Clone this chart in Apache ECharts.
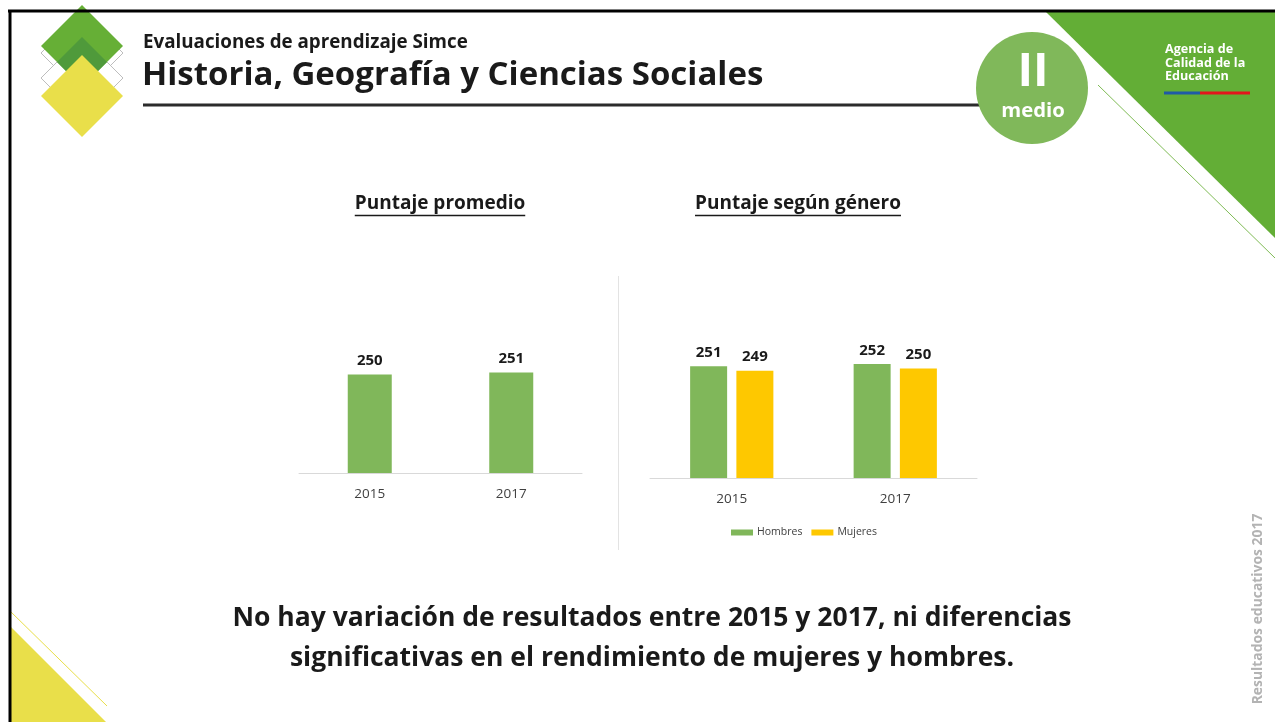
<!DOCTYPE html>
<html>
<head>
<meta charset="utf-8">
<script src="https://cdn.jsdelivr.net/npm/echarts@6/dist/echarts.min.js"></script>
<style>
  html, body { margin: 0; padding: 0; background: #ffffff; }
  #chart { width: 1275px; height: 722px; }
</style>
</head>
<body>
<div id="chart"></div>
<script>
// Simce results, Historia, Geografía y Ciencias Sociales (II medio)
const years = ['2015', '2017'];
const promedio = [250, 251];
const hombres = [251, 252];
const mujeres = [249, 250];
const seriesNames = ['Puntaje promedio', 'Hombres', 'Mujeres'];

const FONT = '"Open Sans", Lato, sans-serif';
const GREEN_BAR = '#80b75a';
const YELLOW_BAR = '#fec800';

// measure a string so the underlines fit their headings
const measureCtx = document.createElement('canvas').getContext('2d');
function textWidth(str, size, weight) {
  measureCtx.font = (weight || 'bold') + ' ' + size + 'px ' + FONT;
  return measureCtx.measureText(str).width;
}

function diamond(cx, cy, r) {
  return [[cx, cy - r], [cx + r, cy], [cx, cy + r], [cx - r, cy]];
}

function headingWithUnderline(str, cx, cy, size) {
  const w = textWidth(str, size);
  return [
    { type: 'text', x: cx, y: cy, z: 10,
      style: { text: str, fontFamily: FONT, fontSize: size, fontWeight: 'bold',
               fill: '#1a1a1a', align: 'center', verticalAlign: 'middle' } },
    { type: 'line', z: 10,
      shape: { x1: cx - w / 2, y1: cy + size * 0.6, x2: cx + w / 2, y2: cy + size * 0.6 },
      style: { stroke: '#1a1a1a', lineWidth: 1.5 } }
  ];
}

const graphics = [
  // frame
  { type: 'line', shape: { x1: 8, y1: 11, x2: 1275, y2: 11 }, style: { stroke: '#000', lineWidth: 3 }, z: 20 },
  { type: 'line', shape: { x1: 10, y1: 10, x2: 10, y2: 722 }, style: { stroke: '#000', lineWidth: 3 }, z: 20 },

  // emblem at top left
  { type: 'polygon', shape: { points: diamond(82, 53, 41) }, style: { fill: '#fff', stroke: '#bdbdbd', lineWidth: 1 } },
  { type: 'polygon', shape: { points: diamond(82, 78, 41) }, style: { fill: '#fff', stroke: '#bdbdbd', lineWidth: 1 } },
  { type: 'polygon', shape: { points: diamond(82, 46, 41) }, style: { fill: '#66af36' } },
  { type: 'polygon', shape: { points: diamond(82, 62, 25) }, style: { fill: '#4f9a3b' } },
  { type: 'polygon', shape: { points: diamond(82, 96, 41) }, style: { fill: '#e9df4a' } },

  // header
  { type: 'text', x: 143, y: 43,
    style: { text: 'Evaluaciones de aprendizaje Simce', fontFamily: FONT, fontSize: 18.8, fontWeight: 'bold',
             fill: '#1a1a1a', align: 'left', verticalAlign: 'middle' } },
  { type: 'text', x: 142, y: 76,
    style: { text: 'Historia, Geografía y Ciencias Sociales', fontFamily: FONT, fontSize: 33, fontWeight: 'bold',
             fill: '#1a1a1a', align: 'left', verticalAlign: 'middle' } },
  { type: 'line', shape: { x1: 143, y1: 105, x2: 990, y2: 105 }, style: { stroke: '#2b2b2b', lineWidth: 3 } },

  // green corner at top right
  { type: 'polygon', shape: { points: [[1046, 12], [1275, 12], [1275, 238]] }, style: { fill: '#63ae36' } },
  { type: 'line', shape: { x1: 1098, y1: 85, x2: 1275, y2: 258 }, style: { stroke: '#7fbb55', lineWidth: 1 } },
  { type: 'text', x: 1165, y: 43,
    style: { text: 'Agencia de\nCalidad de la\nEducación', fontFamily: FONT, fontSize: 12.6, fontWeight: 'bold',
             lineHeight: 13.5, fill: '#ffffff', align: 'left', verticalAlign: 'top' } },
  { type: 'rect', shape: { x: 1164, y: 91.5, width: 36, height: 3 }, style: { fill: '#1f5aa6' } },
  { type: 'rect', shape: { x: 1200, y: 91.5, width: 50, height: 3 }, style: { fill: '#e3161c' } },

  // grade badge
  { type: 'circle', shape: { cx: 1032, cy: 88, r: 56 }, style: { fill: '#80b85a' }, z: 5 },
  { type: 'text', x: 1033, y: 73, z: 6,
    style: { text: 'II', fontFamily: FONT, fontSize: 47, fontWeight: 'bold', fill: '#ffffff',
             align: 'center', verticalAlign: 'middle' } },
  { type: 'text', x: 1033, y: 111, z: 6,
    style: { text: 'medio', fontFamily: FONT, fontSize: 20.3, fontWeight: 'bold', fill: '#ffffff',
             align: 'center', verticalAlign: 'middle' } },

  // separator between the two charts
  { type: 'line', shape: { x1: 618.5, y1: 276, x2: 618.5, y2: 550 }, style: { stroke: '#e3e3e3', lineWidth: 1 } },

  // conclusion
  { type: 'text', x: 652, y: 618,
    style: { text: 'No hay variación de resultados entre 2015 y 2017, ni diferencias', fontFamily: FONT,
             fontSize: 26.5, fontWeight: 'bold', fill: '#1a1a1a', align: 'center', verticalAlign: 'middle' } },
  { type: 'text', x: 652, y: 658,
    style: { text: 'significativas en el rendimiento de mujeres y hombres.', fontFamily: FONT,
             fontSize: 26.5, fontWeight: 'bold', fill: '#1a1a1a', align: 'center', verticalAlign: 'middle' } },

  // side note
  { type: 'text', x: 1258, y: 609, rotation: Math.PI / 2,
    style: { text: 'Resultados educativos 2017', fontFamily: FONT, fontSize: 13.9, fontWeight: 'bold',
             fill: '#b3b3b3', align: 'center', verticalAlign: 'middle' } },

  // yellow corner at bottom left
  { type: 'polygon', shape: { points: [[10, 626], [10, 722], [106, 722]] }, style: { fill: '#e9df4a' } },
  { type: 'line', shape: { x1: 10, y1: 611, x2: 107, y2: 706 }, style: { stroke: '#e9df4a', lineWidth: 1 } }
]
  .concat(headingWithUnderline('Puntaje promedio', 440, 204, 19))
  .concat(headingWithUnderline('Puntaje según género', 798, 204, 19));

const valueLabel = {
  show: true, position: 'top', distance: 6,
  fontFamily: FONT, fontSize: 15, fontWeight: 'bold', color: '#1a1a1a'
};

function categoryAxis(gridIndex) {
  return {
    type: 'category', gridIndex: gridIndex, data: years,
    axisLine: { lineStyle: { color: '#d9d9d9', width: 1 } },
    axisTick: { show: false },
    axisLabel: { color: '#404040', fontFamily: FONT, fontSize: 13.5, margin: 14 }
  };
}

function valueAxis(gridIndex) {
  return { type: 'value', gridIndex: gridIndex, min: 200, max: 300, show: false, splitLine: { show: false } };
}

const chart = echarts.init(document.getElementById('chart'), null, { renderer: 'canvas' });
chart.setOption({
  animation: false,
  backgroundColor: '#ffffff',
  textStyle: { fontFamily: FONT },
  grid: [
    { left: 299, top: 276, width: 283, height: 197, containLabel: false, outerBoundsMode: 'none' },
    { left: 650, top: 259, width: 327, height: 219, containLabel: false, outerBoundsMode: 'none' }
  ],
  xAxis: [categoryAxis(0), categoryAxis(1)],
  yAxis: [valueAxis(0), valueAxis(1)],
  legend: {
    data: [seriesNames[1], seriesNames[2]],
    left: 731, top: 527, padding: 0,
    icon: 'rect', itemWidth: 22, itemHeight: 6, itemGap: 9,
    textStyle: { color: '#404040', fontFamily: FONT, fontSize: 10.5, padding: [0, 0, 0, -1] }
  },
  series: [
    { name: seriesNames[0], type: 'bar', xAxisIndex: 0, yAxisIndex: 0, data: promedio,
      barWidth: 44, itemStyle: { color: GREEN_BAR }, label: valueLabel },
    { name: seriesNames[1], type: 'bar', xAxisIndex: 1, yAxisIndex: 1, data: hombres,
      barWidth: 37, barGap: '25%', itemStyle: { color: GREEN_BAR }, label: valueLabel },
    { name: seriesNames[2], type: 'bar', xAxisIndex: 1, yAxisIndex: 1, data: mujeres,
      barWidth: 37, barGap: '25%', itemStyle: { color: YELLOW_BAR }, label: valueLabel }
  ],
  graphic: { elements: graphics }
});
</script>
</body>
</html>
